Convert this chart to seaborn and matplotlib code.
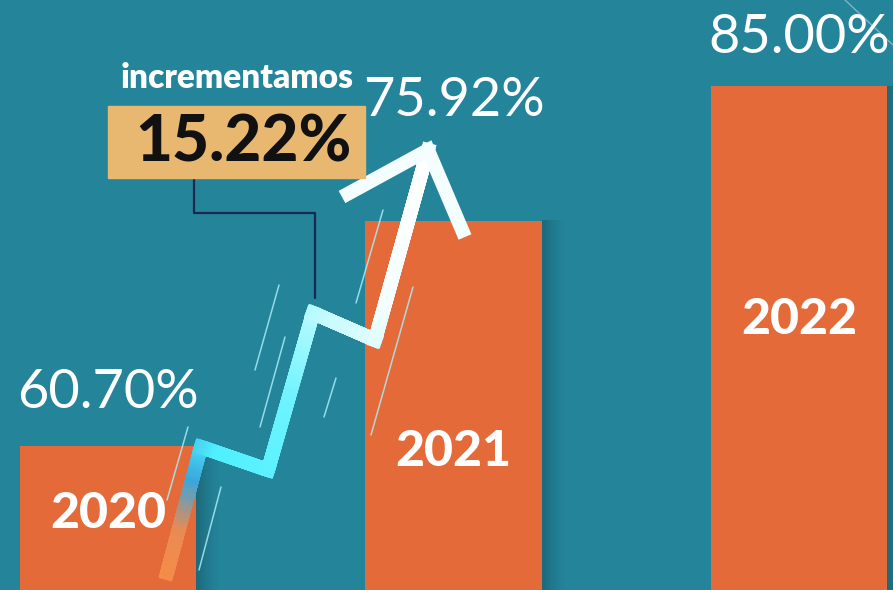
import numpy as np
import matplotlib.pyplot as plt
import seaborn as sns
from matplotlib.collections import LineCollection
from matplotlib.colors import LinearSegmentedColormap
from matplotlib.patches import Rectangle

years = ["2020", "2021", "2022"]
values = [60.70, 75.92, 85.00]
value_labels = ["60.70%", "75.92%", "85.00%"]
increase_text = "incrementamos"
increase_label = "15.22%"

bg = "#24849a"
bar_color = "#e46a3a"
W, H = 893, 590

sns.set_theme(style="white")
plt.rcParams["font.family"] = ["Lato", "DejaVu Sans"]

fig = plt.figure(figsize=(W / 100, H / 100), dpi=100)
fig.patch.set_facecolor(bg)
ax = fig.add_axes([0, 0, 1, 1])
ax.set_facecolor(bg)

sns.barplot(x=years, y=values, color=bar_color, saturation=1, width=0.512,
            edgecolor="none", linewidth=0, ax=ax, zorder=3)
ylo, yhi = 51, 90.84
ax.axis("off")


def px(x, y):
    # pixel position (from top-left) -> axes fraction
    return (x / W, 1 - y / H)


# soft shadow on the right of each bar
shade = np.zeros((1, 64, 4))
shade[0, :, 3] = np.linspace(0.35, 0.0, 64) ** 1.5
for p in ax.patches:
    x1 = p.get_x() + p.get_width()
    ax.imshow(shade, extent=(x1, x1 + 0.07, ylo, p.get_height()),
              aspect="auto", zorder=2)
ax.set_ylim(ylo, yhi)
ax.set_xlim(-0.3126, 2.272)

# value labels above and year labels inside the bars
above = [39, 87, 35]
inside = [48, 166, 168]
for i, (v, lab, yr) in enumerate(zip(values, value_labels, years)):
    ax.annotate(lab, (i, v), xytext=(0, above[i]), textcoords="offset points",
                ha="center", va="center", fontsize=39, fontweight="normal",
                color="white", zorder=6)
    ax.annotate(yr, (i, v), xytext=(0, -inside[i]), textcoords="offset points",
                ha="center", va="center", fontsize=36, fontweight="black",
                color="white", zorder=6)

# zigzag arrow with gradient
pts = np.array([(167, 573), (201, 447), (268, 470), (313, 313), (375, 340), (428, 150)], float)
dense = [pts[0]]
for a, b in zip(pts[:-1], pts[1:]):
    dense.extend(np.linspace(a, b, 60)[1:])
dense = np.array(dense)
dist = np.r_[0, np.cumsum(np.hypot(*np.diff(dense, axis=0).T))]
frac = dist / dist[-1]
cmap = LinearSegmentedColormap.from_list(
    "arrow", [(0, "#f58c48"), (0.08, "#e98a55"), (0.16, "#3aa6dc"),
              (0.24, "#4ff0ff"), (0.45, "#6ff3ff"), (0.62, "#c8fbff"),
              (0.75, "#f4feff"), (1, "#ffffff")])
axpts = np.array([px(x, y) for x, y in dense])
segs = np.stack([axpts[:-1], axpts[1:]], axis=1)
lc = LineCollection(segs, colors=cmap(frac[:-1]), linewidths=10,
                    capstyle="projecting", transform=ax.transAxes, zorder=5)
ax.add_collection(lc)
head = [(342, 197), (428, 150), (465, 237)]
ax.plot(*zip(*[px(x, y) for x, y in head]), color="#f4feff", lw=10,
        solid_joinstyle="miter", solid_capstyle="butt",
        transform=ax.transAxes, zorder=5)

# thin speed lines
speed = [((279, 285), (255, 370)), ((285, 337), (260, 427)),
         ((383, 210), (356, 303)), ((336, 378), (324, 417)),
         ((413, 287), (371, 435)), ((188, 427), (167, 500)),
         ((221, 487), (199, 570))]
for a, b in speed:
    ax.plot(*zip(px(*a), px(*b)), color="#a8ecf7", lw=1.1, alpha=0.85,
            transform=ax.transAxes, zorder=4)

# callout box
ax.text(*px(237, 78), increase_text, transform=ax.transAxes, ha="center",
        va="center", fontsize=24, fontweight="heavy", color="white", zorder=6)
ax.add_patch(Rectangle(px(108, 178), 257 / W, 72 / H, transform=ax.transAxes,
                       color="#e8b870", zorder=5))
ax.text(*px(243, 143), increase_label, transform=ax.transAxes, ha="center",
        va="center", fontsize=46, fontweight="black", color="#111111", zorder=6)
conn = [(194, 178), (194, 213), (315, 213), (315, 298)]
ax.plot(*zip(*[px(x, y) for x, y in conn]), color="#1c2752", lw=1.6,
        transform=ax.transAxes, zorder=4)

ax.plot(*zip(px(845, 0), px(893, 45)), color="white", lw=1, alpha=0.4,
        transform=ax.transAxes, zorder=4)

fig.savefig("out.png", dpi=100, facecolor=bg)
